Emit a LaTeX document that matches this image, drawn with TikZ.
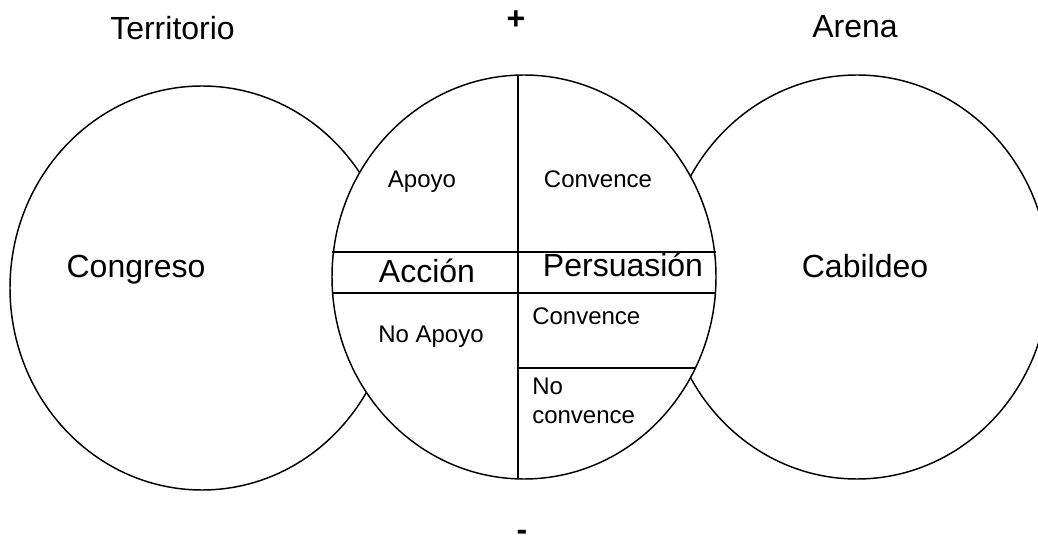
\documentclass[tikz,border=0pt]{standalone}
\usepackage{fontspec}
\setmainfont{Liberation Sans}
\begin{document}
\begin{tikzpicture}[x=0.75pt,y=-0.75pt,
  ring/.style={draw=black,fill=white,line width=1.1pt},
  divider/.style={draw=black,line width=1.1pt},
  big/.style={font=\fontsize{24pt}{28pt}\selectfont,inner sep=0pt},
  small/.style={font=\fontsize{18pt}{21.75pt}\selectfont,inner sep=0pt},
  sign/.style={font=\fontsize{24pt}{28pt}\selectfont\bfseries,inner sep=0pt}]
\useasboundingbox (0,0) rectangle (1038,541);
\clip (0,0) rectangle (1038,541);

% outer circles, then the central one on top
\path[ring] (202,288) ellipse [x radius=192, y radius=202];
\path[ring] (857,277) ellipse [x radius=192, y radius=202];
\path[ring] (524,277) ellipse [x radius=192, y radius=202];

% divisions of the central circle
\coordinate (vtop) at (518,75.1);
\coordinate (vbot) at (518,478.9);
\coordinate (h1l) at (332,252);
\coordinate (h1r) at (716,252);
\coordinate (h2l) at (332,293);
\coordinate (h2r) at (716,293);
\coordinate (h3l) at (518,368);
\coordinate (h3r) at (695,368);
\draw[divider] (vtop) -- (vbot);
\draw[divider] (h1l) -- (h1r);
\draw[divider] (h2l) -- (h2r);
\draw[divider] (h3l) -- (h3r);

% headings
\node[big,anchor=base] (territorio) at (172.5,40) {Territorio};
\node[big,anchor=base] (arena) at (855,38) {Arena};
\node[sign] (plus) at (516,20) {+};
\node[sign] (minus) at (522,535) {-};

% circle labels
\node[big,anchor=base] (congreso) at (136,278) {Congreso};
\node[big,anchor=base] (cabildeo) at (865,278) {Cabildeo};
\node[big,anchor=base] (accion) at (427,283) {Acción};
\node[big,anchor=base] (persuasion) at (623,277) {Persuasión};

% quadrant labels
\node[small,anchor=base] (apoyo) at (422,188) {Apoyo};
\node[small,anchor=base] (convA) at (598,188) {Convence};
\node[small,anchor=base west] (convB) at (532,325) {Convence};
\node[small,anchor=base] (noapoyo) at (431,343) {No Apoyo};
\node[small,anchor=north west,align=left] (noconv) at (532,377.8) {No\\convence};
\end{tikzpicture}
\end{document}
